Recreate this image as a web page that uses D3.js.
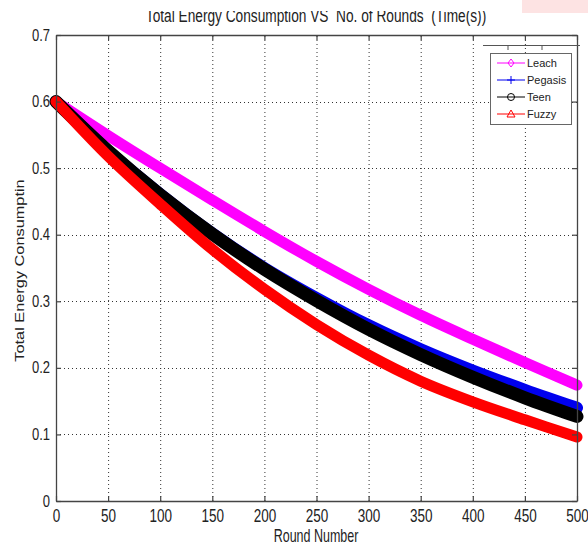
<!DOCTYPE html>
<html><head><meta charset="utf-8">
<script src="https://cdn.jsdelivr.net/npm/d3@7"></script>
<style>
body{margin:0;background:#fff}
text{font-family:"Liberation Sans",Arial,Helvetica,sans-serif;fill:#222}
</style>
</head><body><svg id="c" width="588" height="545"></svg>
<script>
// ---- data ----
const rounds  = [0, 50, 100, 150, 200, 250, 300, 350, 400, 450, 500];
const leach   = [0.600, 0.549, 0.500, 0.452, 0.405, 0.360, 0.318, 0.279, 0.243, 0.208, 0.174];
const pegasis = [0.600, 0.526, 0.461, 0.402, 0.350, 0.305, 0.264, 0.228, 0.196, 0.167, 0.140];
const teen    = [0.600, 0.526, 0.460, 0.401, 0.348, 0.301, 0.258, 0.220, 0.186, 0.155, 0.127];
const fuzzy   = [0.600, 0.518, 0.446, 0.378, 0.318, 0.265, 0.219, 0.180, 0.149, 0.122, 0.096];
const seriesNames = ["Leach", "Pegasis", "Teen", "Fuzzy"];
const xTicks = [0, 50, 100, 150, 200, 250, 300, 350, 400, 450, 500];
const yTicks = [0, 0.1, 0.2, 0.3, 0.4, 0.5, 0.6, 0.7];
const titleText = "Total Energy Consumption VS  No. of Rounds  (Time(s))";
const xLabel = "Round Number";
const yLabel = "Total Energy Consumptin";

const series = [
  {name: seriesNames[0], values: leach,   color: "#ff00ff", width: 11, marker: "diamond"},
  {name: seriesNames[1], values: pegasis, color: "#0000ee", width: 12, marker: "plus"},
  {name: seriesNames[2], values: teen,    color: "#000000", width: 13, marker: "circle"},
  {name: seriesNames[3], values: fuzzy,   color: "#ff0000", width: 11, marker: "triangle"}
];

const L = 56, R = 577, T = 35, B = 501;
const x = d3.scaleLinear().domain([0, 500]).range([L, R]);
const y = d3.scaleLinear().domain([0, 0.7]).range([B, T]);
const svg = d3.select("#c");

// pink block at top right
svg.append("rect").attr("x", 522).attr("y", 0).attr("width", 66).attr("height", 13).attr("fill", "#fde3e3");

// grid
const grid = svg.append("g").attr("stroke", "#333").attr("stroke-width", 1).attr("stroke-dasharray", "1,3");
grid.selectAll("line.v").data(xTicks.filter(d => d > 0 && d < 500)).join("line")
  .attr("x1", d => x(d) + 0.5).attr("x2", d => x(d) + 0.5).attr("y1", B).attr("y2", T);
grid.selectAll("line.h").data(yTicks.filter(d => d > 0 && d < 0.7)).join("line")
  .attr("y1", d => Math.round(y(d)) + 0.5).attr("y2", d => Math.round(y(d)) + 0.5).attr("x1", L).attr("x2", R);

// lines
const line = d3.line().x((d, i) => x(rounds[i])).y(d => y(d)).curve(d3.curveCatmullRom);
series.forEach(s => {
  svg.append("path").attr("d", line(s.values)).attr("fill", "none")
    .attr("stroke", s.color).attr("stroke-width", s.width)
    .attr("stroke-linejoin", "round").attr("stroke-linecap", "round");
});

// axes
const axCol = "#444";
function styleAxis(g) {
  g.select(".domain").attr("stroke", axCol).attr("stroke-width", 1.3);
  g.selectAll(".tick line").attr("stroke", axCol).attr("stroke-width", 1.2);
}
const gx = svg.append("g").attr("transform", `translate(0,${B})`)
  .call(d3.axisBottom(x).tickValues(xTicks).tickSize(-5).tickSizeOuter(0).tickFormat(d3.format("d")));
styleAxis(gx);
gx.selectAll("text").attr("y", 0).attr("dy", 0).attr("font-size", 13.5).attr("fill", "#222")
  .attr("transform", "translate(0,21) scale(1,1.35)");
const gy = svg.append("g").attr("transform", `translate(${L},0)`)
  .call(d3.axisLeft(y).tickValues(yTicks).tickSize(-5).tickSizeOuter(0).tickFormat(d => d === 0 ? "0" : d3.format(".1f")(d)));
styleAxis(gy);
gy.selectAll("text").attr("x", 0).attr("dy", 0).attr("font-size", 13).attr("fill", "#222")
  .attr("transform", "translate(-6,5) scale(1,1.2)");
const gt = svg.append("g").attr("transform", `translate(0,${T})`)
  .call(d3.axisTop(x).tickValues(xTicks).tickSize(-5).tickSizeOuter(0).tickFormat(""));
styleAxis(gt);
const gr = svg.append("g").attr("transform", `translate(${R},0)`)
  .call(d3.axisRight(y).tickValues(yTicks).tickSize(-5).tickSizeOuter(0).tickFormat(""));
styleAxis(gr);

// title (top clipped, as in the reference)
svg.append("clipPath").attr("id", "tclip").append("rect")
  .attr("x", 0).attr("y", 11).attr("width", 588).attr("height", 20);
svg.append("g").attr("clip-path", "url(#tclip)")
  .append("text")
  .attr("transform", "translate(316,22) scale(1,1.35)")
  .attr("text-anchor", "middle").attr("font-size", 13.7).style("white-space", "pre").attr("fill", "#333")
  .text(titleText);

// axis labels
svg.append("text").attr("transform", "translate(316,542) scale(1,1.4)")
  .attr("text-anchor", "middle").attr("font-size", 12.5).attr("fill", "#222").text(xLabel);
svg.append("text").attr("transform", "translate(24,270.5) rotate(-90) scale(1.21,1)")
  .attr("text-anchor", "middle").attr("font-size", 13.5).attr("fill", "#222").text(yLabel);

// legend
const lg = svg.append("g");
lg.append("line").attr("x1", 483).attr("x2", 580).attr("y1", 45.5).attr("y2", 45.5).attr("stroke", "#555");
[508, 542].forEach(t => lg.append("line").attr("x1", t).attr("x2", t).attr("y1", 45).attr("y2", 50).attr("stroke", "#555"));
lg.append("rect").attr("x", 490.5).attr("y", 53.5).attr("width", 81).attr("height", 71)
  .attr("fill", "#fff").attr("stroke", "#666").attr("stroke-width", 1);
const rowsY = [63, 80, 97, 114];
series.forEach((s, i) => {
  const yy = rowsY[i];
  const g = lg.append("g").attr("transform", `translate(0,${yy})`);
  g.append("line").attr("x1", 497).attr("x2", 525).attr("y1", 0).attr("y2", 0).attr("stroke", s.color).attr("stroke-width", 1);
  const cx = 511;
  if (s.marker === "diamond") {
    g.append("path").attr("d", `M${cx},-4L${cx+3},0L${cx},4L${cx-3},0Z`).attr("fill", "none").attr("stroke", s.color);
  } else if (s.marker === "plus") {
    g.append("path").attr("d", `M${cx},-4V4M${cx-4},0H${cx+4}`).attr("stroke", s.color);
  } else if (s.marker === "circle") {
    g.append("circle").attr("cx", cx).attr("cy", 0).attr("r", 3.5).attr("fill", "none").attr("stroke", s.color);
  } else {
    g.append("path").attr("d", `M${cx},-4L${cx+4},3L${cx-4},3Z`).attr("fill", "none").attr("stroke", s.color);
  }
  g.append("text").attr("x", 527).attr("y", 4).attr("font-size", 11).attr("fill", "#444").text(s.name);
});
</script>
</body></html>
